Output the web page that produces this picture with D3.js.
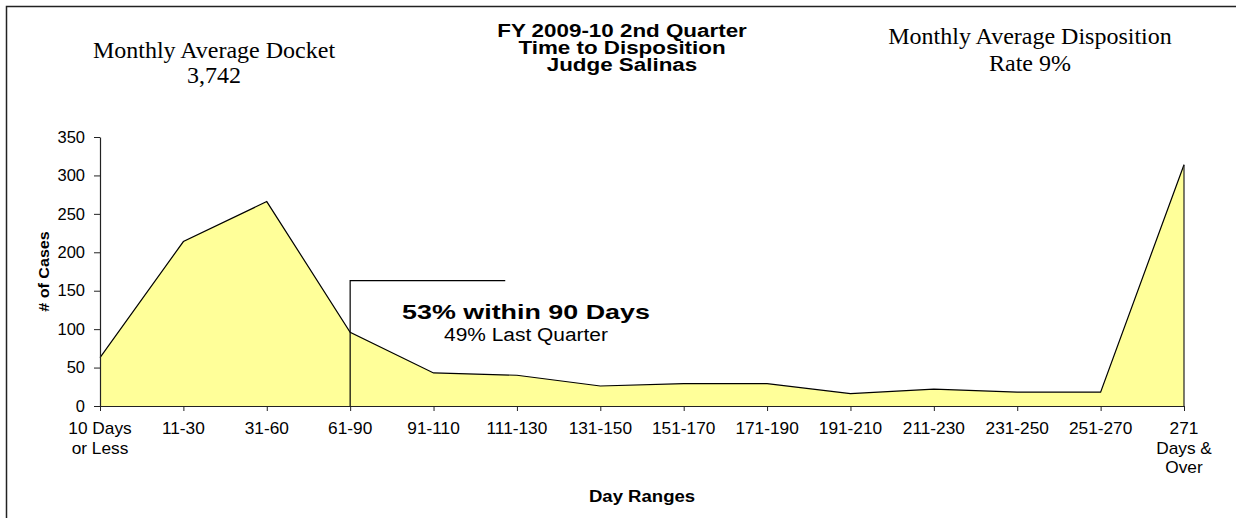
<!DOCTYPE html>
<html>
<head>
<meta charset="utf-8">
<script src="https://cdn.jsdelivr.net/npm/d3@7/dist/d3.min.js"></script>
<style>
  body { margin: 0; background: #fff; }
  svg { display: block; }
</style>
</head>
<body>
<div id="chart"></div>
<script>
// day range categories (each entry is one tick label, split into lines)
let dayRanges = [
    ["10 Days", "or Less"], ["11-30"], ["31-60"], ["61-90"], ["91-110"], ["111-130"],
    ["131-150"], ["151-170"], ["171-190"], ["191-210"], ["211-230"], ["231-250"],
    ["251-270"], ["271", "Days &", "Over"]
];
// number of cases per day range
let caseCounts = [63, 214, 266, 96, 43, 40, 26, 29, 29, 16, 22, 18, 18, 314];
let yTicks = [0, 50, 100, 150, 200, 250, 300, 350];

let titleLines = ["FY 2009-10 2nd Quarter", "Time to Disposition", "Judge Salinas"];
let docketLines = ["Monthly Average Docket", "3,742"];
let rateLines = ["Monthly Average Disposition", "Rate 9%"];
let noteLines = ["53% within 90 Days", "49% Last Quarter"];

let W = 1236, H = 518;
let margin = {top: 137, right: 52, bottom: 112, left: 100};

let svg = d3.select("#chart").append("svg")
    .attr("width", W)
    .attr("height", H);

// outer frame
svg.append("rect")
    .attr("x", 6.5).attr("y", 6.5)
    .attr("width", W + 10).attr("height", H + 10)
    .attr("fill", "none")
    .attr("stroke", "#222")
    .attr("stroke-width", 1.5);

let keys = dayRanges.map(d => d.join(" "));

let x = d3.scalePoint()
    .domain(keys)
    .range([margin.left, W - margin.right]);

let y = d3.scaleLinear()
    .domain([0, 350])
    .range([H - margin.bottom, margin.top]);

// helper for text that is widened horizontally like the original rendering
function label(g, str, px, py, opts) {
    let t = g.append("text")
        .attr("transform", "translate(" + px + "," + py + ")" +
            (opts.rotate ? " rotate(" + opts.rotate + ")" : "") +
            " scale(" + (opts.sx || 1) + ",1)")
        .attr("text-anchor", opts.anchor || "middle")
        .attr("font-family", opts.family || "'Liberation Sans', Arial, sans-serif")
        .attr("font-size", opts.size)
        .attr("font-weight", opts.weight || "normal")
        .attr("fill", "#000")
        .text(str);
    return t;
}

let data = keys.map((k, i) => ({key: k, value: caseCounts[i]}));

// area
let area = d3.area()
    .x(d => x(d.key))
    .y0(y(0))
    .y1(d => y(d.value));

svg.append("path")
    .datum(data)
    .attr("d", area)
    .attr("fill", "#ffff99");

let line = d3.line()
    .x(d => x(d.key))
    .y(d => y(d.value));

svg.append("path")
    .datum(data)
    .attr("d", line)
    .attr("fill", "none")
    .attr("stroke", "#000")
    .attr("stroke-width", 1.2);

// right edge of the area
let last = data[data.length - 1];
svg.append("line")
    .attr("x1", x(last.key)).attr("x2", x(last.key))
    .attr("y1", y(last.value)).attr("y2", y(0))
    .attr("stroke", "#222")
    .attr("stroke-width", 1.2);

// y axis
let yAxis = svg.append("g")
    .attr("transform", "translate(" + margin.left + ",0)")
    .call(d3.axisLeft(y).tickValues(yTicks).tickSize(6).tickSizeOuter(0).tickPadding(9));
yAxis.select(".domain").attr("stroke", "#222").attr("stroke-width", 1.2);
yAxis.selectAll(".tick line").attr("stroke", "#222");
yAxis.selectAll(".tick text")
    .attr("font-family", "'Liberation Sans', Arial, sans-serif")
    .attr("font-size", 16.5)
    .attr("fill", "#000");

// x axis
let xAxis = svg.append("g")
    .attr("transform", "translate(0," + y(0) + ")")
    .call(d3.axisBottom(x).tickSize(5).tickSizeOuter(0).tickFormat(""));
xAxis.select(".domain").attr("stroke", "#222").attr("stroke-width", 1.2);
xAxis.selectAll(".tick line").attr("stroke", "#222");

let tickLabels = svg.append("g");
dayRanges.forEach((lines, i) => {
    lines.forEach((ln, j) => {
        label(tickLabels, ln, x(keys[i]), y(0) + 28 + j * 19.5, {size: 16, sx: 1.08});
    });
});

// axis titles
label(svg, "Day Ranges", (margin.left + W - margin.right) / 2, 502, {size: 16, weight: "bold", sx: 1.16});
label(svg, "# of Cases", 49, (y(0) + y(350)) / 2, {size: 14, weight: "bold", rotate: -90, sx: 1.15});

// headings
titleLines.forEach((ln, i) => {
    label(svg, ln, 622, 37 + i * 16.8, {size: 17.5, weight: "bold", sx: 1.28});
});
docketLines.forEach((ln, i) => {
    label(svg, ln, 214, 58.3 + i * 25, {size: 24, family: "'Liberation Serif', 'Times New Roman', serif"});
});
rateLines.forEach((ln, i) => {
    label(svg, ln, 1030, 44.3 + i * 26.5, {size: 24, family: "'Liberation Serif', 'Times New Roman', serif"});
});

// callout
let calloutTop = 163;
let calloutEnd = 4.86;
let cx = x(keys[3]);
let step = x.step();
svg.append("path")
    .attr("d", "M" + cx + "," + y(0) + "V" + y(calloutTop) + "H" + (margin.left + calloutEnd * step))
    .attr("fill", "none")
    .attr("stroke", "#000")
    .attr("stroke-width", 1.2);

label(svg, noteLines[0], 526, 318.5, {size: 21, weight: "bold", sx: 1.28});
label(svg, noteLines[1], 526, 341, {size: 19, sx: 1.1});
</script>
</body>
</html>
